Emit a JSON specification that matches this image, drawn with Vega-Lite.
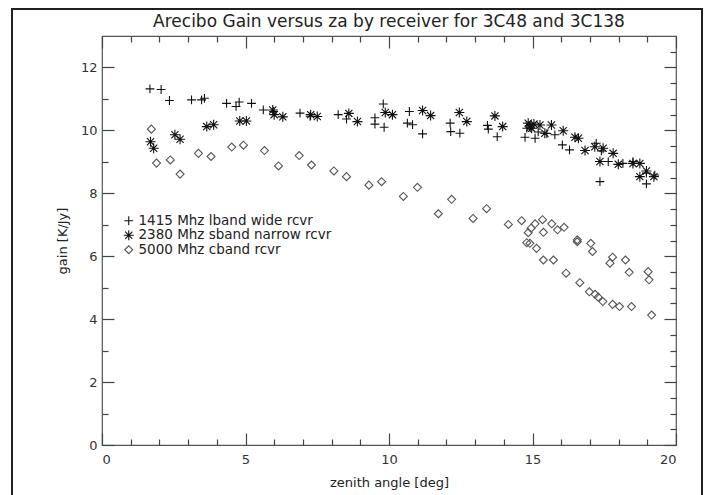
{
  "$schema": "https://vega.github.io/schema/vega-lite/v6.json",
  "width": 574,
  "height": 409,
  "autosize": {"type": "none"},
  "padding": {"left": 102, "top": 36, "right": 31, "bottom": 50},
  "background": "white",
  "title": {
    "text": "Arecibo Gain versus za by receiver for 3C48 and 3C138",
    "font": "DejaVu Sans",
    "fontSize": 17,
    "fontWeight": "normal",
    "color": "#222",
    "offset": -22
  },
  "data": {
    "values": [
      {"za": 1.67, "gain": 11.32, "rcvr": "1415 Mhz lband wide rcvr"},
      {"za": 2.06, "gain": 11.30, "rcvr": "1415 Mhz lband wide rcvr"},
      {"za": 2.35, "gain": 10.95, "rcvr": "1415 Mhz lband wide rcvr"},
      {"za": 3.12, "gain": 10.97, "rcvr": "1415 Mhz lband wide rcvr"},
      {"za": 3.47, "gain": 10.97, "rcvr": "1415 Mhz lband wide rcvr"},
      {"za": 3.57, "gain": 11.02, "rcvr": "1415 Mhz lband wide rcvr"},
      {"za": 4.34, "gain": 10.86, "rcvr": "1415 Mhz lband wide rcvr"},
      {"za": 4.67, "gain": 10.76, "rcvr": "1415 Mhz lband wide rcvr"},
      {"za": 4.78, "gain": 10.90, "rcvr": "1415 Mhz lband wide rcvr"},
      {"za": 5.21, "gain": 10.86, "rcvr": "1415 Mhz lband wide rcvr"},
      {"za": 5.62, "gain": 10.65, "rcvr": "1415 Mhz lband wide rcvr"},
      {"za": 5.98, "gain": 10.60, "rcvr": "1415 Mhz lband wide rcvr"},
      {"za": 6.90, "gain": 10.55, "rcvr": "1415 Mhz lband wide rcvr"},
      {"za": 7.25, "gain": 10.45, "rcvr": "1415 Mhz lband wide rcvr"},
      {"za": 8.23, "gain": 10.50, "rcvr": "1415 Mhz lband wide rcvr"},
      {"za": 8.52, "gain": 10.36, "rcvr": "1415 Mhz lband wide rcvr"},
      {"za": 9.51, "gain": 10.40, "rcvr": "1415 Mhz lband wide rcvr"},
      {"za": 9.51, "gain": 10.20, "rcvr": "1415 Mhz lband wide rcvr"},
      {"za": 9.80, "gain": 10.84, "rcvr": "1415 Mhz lband wide rcvr"},
      {"za": 9.83, "gain": 10.10, "rcvr": "1415 Mhz lband wide rcvr"},
      {"za": 10.71, "gain": 10.60, "rcvr": "1415 Mhz lband wide rcvr"},
      {"za": 10.64, "gain": 10.23, "rcvr": "1415 Mhz lband wide rcvr"},
      {"za": 10.82, "gain": 10.18, "rcvr": "1415 Mhz lband wide rcvr"},
      {"za": 11.17, "gain": 9.89, "rcvr": "1415 Mhz lband wide rcvr"},
      {"za": 12.13, "gain": 10.23, "rcvr": "1415 Mhz lband wide rcvr"},
      {"za": 12.15, "gain": 9.96, "rcvr": "1415 Mhz lband wide rcvr"},
      {"za": 12.47, "gain": 9.91, "rcvr": "1415 Mhz lband wide rcvr"},
      {"za": 13.43, "gain": 10.16, "rcvr": "1415 Mhz lband wide rcvr"},
      {"za": 13.46, "gain": 10.04, "rcvr": "1415 Mhz lband wide rcvr"},
      {"za": 13.77, "gain": 9.80, "rcvr": "1415 Mhz lband wide rcvr"},
      {"za": 14.74, "gain": 9.78, "rcvr": "1415 Mhz lband wide rcvr"},
      {"za": 14.80, "gain": 10.07, "rcvr": "1415 Mhz lband wide rcvr"},
      {"za": 14.90, "gain": 10.15, "rcvr": "1415 Mhz lband wide rcvr"},
      {"za": 15.09, "gain": 9.75, "rcvr": "1415 Mhz lband wide rcvr"},
      {"za": 15.20, "gain": 9.95, "rcvr": "1415 Mhz lband wide rcvr"},
      {"za": 15.50, "gain": 9.90, "rcvr": "1415 Mhz lband wide rcvr"},
      {"za": 15.78, "gain": 9.86, "rcvr": "1415 Mhz lband wide rcvr"},
      {"za": 16.04, "gain": 9.54, "rcvr": "1415 Mhz lband wide rcvr"},
      {"za": 16.29, "gain": 9.38, "rcvr": "1415 Mhz lband wide rcvr"},
      {"za": 17.22, "gain": 9.59, "rcvr": "1415 Mhz lband wide rcvr"},
      {"za": 17.35, "gain": 8.37, "rcvr": "1415 Mhz lband wide rcvr"},
      {"za": 17.40, "gain": 9.35, "rcvr": "1415 Mhz lband wide rcvr"},
      {"za": 17.64, "gain": 9.01, "rcvr": "1415 Mhz lband wide rcvr"},
      {"za": 18.15, "gain": 8.95, "rcvr": "1415 Mhz lband wide rcvr"},
      {"za": 18.50, "gain": 9.01, "rcvr": "1415 Mhz lband wide rcvr"},
      {"za": 18.97, "gain": 8.64, "rcvr": "1415 Mhz lband wide rcvr"},
      {"za": 19.26, "gain": 8.58, "rcvr": "1415 Mhz lband wide rcvr"},
      {"za": 18.97, "gain": 8.30, "rcvr": "1415 Mhz lband wide rcvr"},
      {"za": 1.69, "gain": 9.64, "rcvr": "2380 Mhz sband narrow rcvr"},
      {"za": 1.80, "gain": 9.43, "rcvr": "2380 Mhz sband narrow rcvr"},
      {"za": 2.54, "gain": 9.86, "rcvr": "2380 Mhz sband narrow rcvr"},
      {"za": 2.72, "gain": 9.72, "rcvr": "2380 Mhz sband narrow rcvr"},
      {"za": 3.65, "gain": 10.12, "rcvr": "2380 Mhz sband narrow rcvr"},
      {"za": 3.89, "gain": 10.18, "rcvr": "2380 Mhz sband narrow rcvr"},
      {"za": 4.80, "gain": 10.30, "rcvr": "2380 Mhz sband narrow rcvr"},
      {"za": 5.03, "gain": 10.30, "rcvr": "2380 Mhz sband narrow rcvr"},
      {"za": 5.95, "gain": 10.65, "rcvr": "2380 Mhz sband narrow rcvr"},
      {"za": 6.00, "gain": 10.50, "rcvr": "2380 Mhz sband narrow rcvr"},
      {"za": 6.30, "gain": 10.43, "rcvr": "2380 Mhz sband narrow rcvr"},
      {"za": 7.27, "gain": 10.50, "rcvr": "2380 Mhz sband narrow rcvr"},
      {"za": 7.50, "gain": 10.44, "rcvr": "2380 Mhz sband narrow rcvr"},
      {"za": 8.60, "gain": 10.54, "rcvr": "2380 Mhz sband narrow rcvr"},
      {"za": 8.90, "gain": 10.28, "rcvr": "2380 Mhz sband narrow rcvr"},
      {"za": 9.87, "gain": 10.57, "rcvr": "2380 Mhz sband narrow rcvr"},
      {"za": 10.12, "gain": 10.50, "rcvr": "2380 Mhz sband narrow rcvr"},
      {"za": 11.17, "gain": 10.63, "rcvr": "2380 Mhz sband narrow rcvr"},
      {"za": 11.45, "gain": 10.47, "rcvr": "2380 Mhz sband narrow rcvr"},
      {"za": 12.45, "gain": 10.57, "rcvr": "2380 Mhz sband narrow rcvr"},
      {"za": 12.71, "gain": 10.28, "rcvr": "2380 Mhz sband narrow rcvr"},
      {"za": 13.69, "gain": 10.46, "rcvr": "2380 Mhz sband narrow rcvr"},
      {"za": 13.96, "gain": 10.12, "rcvr": "2380 Mhz sband narrow rcvr"},
      {"za": 14.85, "gain": 10.23, "rcvr": "2380 Mhz sband narrow rcvr"},
      {"za": 14.92, "gain": 10.10, "rcvr": "2380 Mhz sband narrow rcvr"},
      {"za": 14.97, "gain": 10.07, "rcvr": "2380 Mhz sband narrow rcvr"},
      {"za": 15.05, "gain": 10.20, "rcvr": "2380 Mhz sband narrow rcvr"},
      {"za": 15.26, "gain": 10.17, "rcvr": "2380 Mhz sband narrow rcvr"},
      {"za": 15.43, "gain": 9.91, "rcvr": "2380 Mhz sband narrow rcvr"},
      {"za": 15.66, "gain": 10.17, "rcvr": "2380 Mhz sband narrow rcvr"},
      {"za": 16.07, "gain": 9.99, "rcvr": "2380 Mhz sband narrow rcvr"},
      {"za": 16.48, "gain": 9.78, "rcvr": "2380 Mhz sband narrow rcvr"},
      {"za": 16.60, "gain": 9.75, "rcvr": "2380 Mhz sband narrow rcvr"},
      {"za": 16.83, "gain": 9.36, "rcvr": "2380 Mhz sband narrow rcvr"},
      {"za": 17.17, "gain": 9.48, "rcvr": "2380 Mhz sband narrow rcvr"},
      {"za": 17.35, "gain": 9.01, "rcvr": "2380 Mhz sband narrow rcvr"},
      {"za": 17.46, "gain": 9.43, "rcvr": "2380 Mhz sband narrow rcvr"},
      {"za": 17.81, "gain": 9.27, "rcvr": "2380 Mhz sband narrow rcvr"},
      {"za": 17.99, "gain": 8.92, "rcvr": "2380 Mhz sband narrow rcvr"},
      {"za": 18.50, "gain": 8.95, "rcvr": "2380 Mhz sband narrow rcvr"},
      {"za": 18.74, "gain": 8.95, "rcvr": "2380 Mhz sband narrow rcvr"},
      {"za": 18.97, "gain": 8.71, "rcvr": "2380 Mhz sband narrow rcvr"},
      {"za": 18.74, "gain": 8.53, "rcvr": "2380 Mhz sband narrow rcvr"},
      {"za": 19.23, "gain": 8.53, "rcvr": "2380 Mhz sband narrow rcvr"},
      {"za": 1.72, "gain": 10.04, "rcvr": "5000 Mhz cband rcvr"},
      {"za": 1.90, "gain": 8.96, "rcvr": "5000 Mhz cband rcvr"},
      {"za": 2.38, "gain": 9.06, "rcvr": "5000 Mhz cband rcvr"},
      {"za": 2.72, "gain": 8.61, "rcvr": "5000 Mhz cband rcvr"},
      {"za": 3.36, "gain": 9.27, "rcvr": "5000 Mhz cband rcvr"},
      {"za": 3.80, "gain": 9.17, "rcvr": "5000 Mhz cband rcvr"},
      {"za": 4.52, "gain": 9.47, "rcvr": "5000 Mhz cband rcvr"},
      {"za": 4.93, "gain": 9.53, "rcvr": "5000 Mhz cband rcvr"},
      {"za": 5.66, "gain": 9.36, "rcvr": "5000 Mhz cband rcvr"},
      {"za": 6.15, "gain": 8.87, "rcvr": "5000 Mhz cband rcvr"},
      {"za": 6.87, "gain": 9.20, "rcvr": "5000 Mhz cband rcvr"},
      {"za": 7.30, "gain": 8.90, "rcvr": "5000 Mhz cband rcvr"},
      {"za": 8.08, "gain": 8.71, "rcvr": "5000 Mhz cband rcvr"},
      {"za": 8.52, "gain": 8.53, "rcvr": "5000 Mhz cband rcvr"},
      {"za": 9.30, "gain": 8.26, "rcvr": "5000 Mhz cband rcvr"},
      {"za": 9.74, "gain": 8.37, "rcvr": "5000 Mhz cband rcvr"},
      {"za": 10.50, "gain": 7.90, "rcvr": "5000 Mhz cband rcvr"},
      {"za": 10.99, "gain": 8.19, "rcvr": "5000 Mhz cband rcvr"},
      {"za": 11.72, "gain": 7.35, "rcvr": "5000 Mhz cband rcvr"},
      {"za": 12.18, "gain": 7.81, "rcvr": "5000 Mhz cband rcvr"},
      {"za": 12.93, "gain": 7.20, "rcvr": "5000 Mhz cband rcvr"},
      {"za": 13.40, "gain": 7.51, "rcvr": "5000 Mhz cband rcvr"},
      {"za": 14.16, "gain": 7.01, "rcvr": "5000 Mhz cband rcvr"},
      {"za": 14.62, "gain": 7.13, "rcvr": "5000 Mhz cband rcvr"},
      {"za": 14.85, "gain": 6.75, "rcvr": "5000 Mhz cband rcvr"},
      {"za": 14.95, "gain": 6.89, "rcvr": "5000 Mhz cband rcvr"},
      {"za": 15.09, "gain": 7.03, "rcvr": "5000 Mhz cband rcvr"},
      {"za": 15.35, "gain": 7.16, "rcvr": "5000 Mhz cband rcvr"},
      {"za": 15.38, "gain": 6.76, "rcvr": "5000 Mhz cband rcvr"},
      {"za": 15.67, "gain": 7.03, "rcvr": "5000 Mhz cband rcvr"},
      {"za": 15.87, "gain": 6.84, "rcvr": "5000 Mhz cband rcvr"},
      {"za": 16.10, "gain": 6.92, "rcvr": "5000 Mhz cband rcvr"},
      {"za": 14.80, "gain": 6.43, "rcvr": "5000 Mhz cband rcvr"},
      {"za": 14.91, "gain": 6.41, "rcvr": "5000 Mhz cband rcvr"},
      {"za": 15.14, "gain": 6.25, "rcvr": "5000 Mhz cband rcvr"},
      {"za": 15.38, "gain": 5.88, "rcvr": "5000 Mhz cband rcvr"},
      {"za": 15.73, "gain": 5.88, "rcvr": "5000 Mhz cband rcvr"},
      {"za": 16.56, "gain": 6.52, "rcvr": "5000 Mhz cband rcvr"},
      {"za": 16.56, "gain": 6.46, "rcvr": "5000 Mhz cband rcvr"},
      {"za": 17.03, "gain": 6.41, "rcvr": "5000 Mhz cband rcvr"},
      {"za": 17.09, "gain": 6.15, "rcvr": "5000 Mhz cband rcvr"},
      {"za": 16.17, "gain": 5.46, "rcvr": "5000 Mhz cband rcvr"},
      {"za": 17.79, "gain": 5.97, "rcvr": "5000 Mhz cband rcvr"},
      {"za": 17.70, "gain": 5.78, "rcvr": "5000 Mhz cband rcvr"},
      {"za": 18.24, "gain": 5.88, "rcvr": "5000 Mhz cband rcvr"},
      {"za": 18.37, "gain": 5.49, "rcvr": "5000 Mhz cband rcvr"},
      {"za": 19.03, "gain": 5.51, "rcvr": "5000 Mhz cband rcvr"},
      {"za": 19.06, "gain": 5.25, "rcvr": "5000 Mhz cband rcvr"},
      {"za": 16.65, "gain": 5.16, "rcvr": "5000 Mhz cband rcvr"},
      {"za": 16.98, "gain": 4.87, "rcvr": "5000 Mhz cband rcvr"},
      {"za": 17.18, "gain": 4.79, "rcvr": "5000 Mhz cband rcvr"},
      {"za": 17.29, "gain": 4.70, "rcvr": "5000 Mhz cband rcvr"},
      {"za": 17.45, "gain": 4.56, "rcvr": "5000 Mhz cband rcvr"},
      {"za": 17.79, "gain": 4.47, "rcvr": "5000 Mhz cband rcvr"},
      {"za": 18.03, "gain": 4.40, "rcvr": "5000 Mhz cband rcvr"},
      {"za": 18.45, "gain": 4.40, "rcvr": "5000 Mhz cband rcvr"},
      {"za": 19.15, "gain": 4.13, "rcvr": "5000 Mhz cband rcvr"}
    ]
  },
  "layer": [
    {
      "mark": {"type": "rect", "fill": null, "stroke": "#222", "strokeWidth": 1.2, "clip": false},
      "encoding": {
        "x": {"datum": -3.14, "type": "quantitative", "scale": {"domain": [0, 20], "nice": false, "zero": false},
          "axis": {
            "orient": "top",
            "values": [0,1,2,3,4,5,6,7,8,9,10,11,12,13,14,15,16,17,18,19,20],
            "labels": false,
            "title": null,
            "domain": false,
            "tickSize": {"condition": {"test": "datum.value % 5 === 0", "value": -12}, "value": -6}
          }
        },
        "x2": {"datum": 20.9},
        "y": {"datum": 13.85, "type": "quantitative", "scale": {"domain": [0, 13], "nice": false, "zero": false},
          "axis": {
            "orient": "right",
            "values": [0,0.5,1,1.5,2,2.5,3,3.5,4,4.5,5,5.5,6,6.5,7,7.5,8,8.5,9,9.5,10,10.5,11,11.5,12,12.5],
            "labels": false,
            "title": null,
            "domain": false,
            "tickSize": {"condition": {"test": "datum.value % 2 === 0", "value": -12}, "value": -6}
          }
        },
        "y2": {"datum": -2}
      }
    },
    {
      "mark": {"type": "point", "filled": false, "strokeWidth": 1.1, "size": 64, "opacity": 1},
      "encoding": {
        "x": {
          "field": "za", "type": "quantitative",
          "scale": {"domain": [0, 20], "nice": false, "zero": false},
          "axis": {
            "orient": "bottom",
            "values": [0,1,2,3,4,5,6,7,8,9,10,11,12,13,14,15,16,17,18,19,20],
            "format": "d",
            "labelExpr": "datum.value % 5 === 0 ? datum.label : ''",
            "title": "zenith angle [deg]",
            "domain": false,
            "labelPadding": 20,
            "titlePadding": 10,
            "tickSize": {"condition": {"test": "datum.value % 5 === 0", "value": -12}, "value": -6}
          }
        },
        "y": {
          "field": "gain", "type": "quantitative",
          "scale": {"domain": [0, 13], "nice": false, "zero": false},
          "axis": {
            "orient": "left",
            "values": [0,0.5,1,1.5,2,2.5,3,3.5,4,4.5,5,5.5,6,6.5,7,7.5,8,8.5,9,9.5,10,10.5,11,11.5,12,12.5],
            "format": "d",
            "labelExpr": "datum.value % 2 === 0 ? datum.label : ''",
            "title": "gain [K/Jy]",
            "domain": false,
            "labelPadding": 17,
            "titlePadding": 11,
            "tickSize": {"condition": {"test": "datum.value % 2 === 0", "value": -12}, "value": -6}
          }
        },
        "shape": {
          "field": "rcvr", "type": "nominal",
          "scale": {
            "domain": ["1415 Mhz lband wide rcvr", "2380 Mhz sband narrow rcvr", "5000 Mhz cband rcvr"],
            "range": [
              "M-1.1,0H1.1M0,-1.1V1.1",
              "M-1.25,0H1.25M0,-1.25V1.25M-0.9,-0.9L0.9,0.9M-0.9,0.9L0.9,-0.9",
              "diamond"
            ]
          },
          "legend": {
            "orient": "none",
            "legendX": 20,
            "legendY": 178,
            "title": null
          }
        },
        "stroke": {
          "field": "rcvr", "type": "nominal",
          "scale": {
            "domain": ["1415 Mhz lband wide rcvr", "2380 Mhz sband narrow rcvr", "5000 Mhz cband rcvr"],
            "range": ["#111", "#111", "#555"]
          },
          "legend": {
            "orient": "none",
            "legendX": 20,
            "legendY": 178,
            "title": null
          }
        }
      }
    }
  ],
  "resolve": {"axis": {"x": "independent", "y": "independent"}},
  "config": {
    "view": {"stroke": "#555", "strokeWidth": 1.2},
    "font": "DejaVu Sans",
    "axis": {
      "grid": false,
      "tickColor": "#444",
      "tickWidth": 1.2,
      "labelFont": "DejaVu Sans",
      "labelFontSize": 13,
      "labelColor": "#333",
      "titleFont": "DejaVu Sans",
      "titleFontSize": 13,
      "titleFontWeight": "normal",
      "titleColor": "#222"
    },
    "legend": {
      "labelFont": "DejaVu Sans",
      "labelFontSize": 13.5,
      "labelColor": "#222",
      "labelLimit": 0,
      "symbolSize": 64,
      "symbolStrokeWidth": 1.1,
      "symbolType": "circle",
      "labelOffset": 3,
      "rowPadding": -0.5
    }
  }
}
